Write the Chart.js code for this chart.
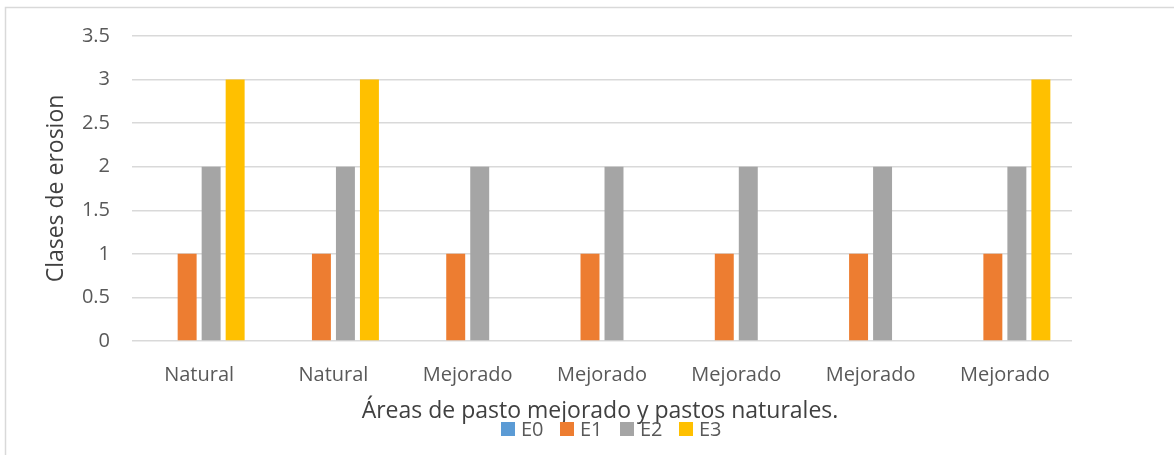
<!DOCTYPE html>
<html>
<head>
<meta charset="utf-8">
<script src="https://cdn.jsdelivr.net/npm/chart.js"></script>
<style>
  html, body { margin: 0; padding: 0; background: #fff; }
  #wrap { position: relative; width: 1174px; height: 455px; }
</style>
</head>
<body>
<div id="wrap"><canvas id="chart" width="1174" height="455"></canvas></div>
<script>
// datos del grafico
const categorias = ['Natural', 'Natural', 'Mejorado', 'Mejorado', 'Mejorado', 'Mejorado', 'Mejorado'];
const serieE0 = [0, 0, 0, 0, 0, 0, 0];
const serieE1 = [1, 1, 1, 1, 1, 1, 1];
const serieE2 = [2, 2, 2, 2, 2, 2, 2];
const serieE3 = [3, 3, 0, 0, 0, 0, 3];
const nombresSeries = ['E0', 'E1', 'E2', 'E3'];
const coloresSeries = ['#5B9BD5', '#ED7D31', '#A5A5A5', '#FFC000'];

const FONT = "'Open Sans', sans-serif";
const GRIS_TEXTO = '#595959';

// borde del area del grafico + titulo X + leyenda (se superponen como en el original)
const extras = {
    id: 'extras',
    beforeDraw(chart) {
        const ctx = chart.ctx;
        ctx.save();
        ctx.strokeStyle = '#d9d9d9';
        ctx.lineWidth = 1.5;
        ctx.beginPath();
        ctx.moveTo(5.5, 455);
        ctx.lineTo(5.5, 7.5);
        ctx.lineTo(1174, 7.5);
        ctx.stroke();
        ctx.restore();
    },
    afterDraw(chart) {
        const ctx = chart.ctx;
        ctx.save();
        // titulo eje X
        ctx.fillStyle = '#404040';
        ctx.font = '23px ' + FONT;
        ctx.textAlign = 'center';
        ctx.textBaseline = 'middle';
        ctx.fillText('Áreas de pasto mejorado y pastos naturales.', 600, 411);

        // leyenda
        const xs = [501, 560, 620, 679];
        ctx.font = '20px ' + FONT;
        ctx.textAlign = 'left';
        chart.data.datasets.forEach((ds, i) => {
            ctx.fillStyle = ds.backgroundColor;
            ctx.fillRect(xs[i], 422, 14, 14);
            ctx.fillStyle = GRIS_TEXTO;
            ctx.fillText(ds.label, xs[i] + 20, 430);
        });
        ctx.restore();
    }
};

const datos = [serieE0, serieE1, serieE2, serieE3];

new Chart(document.getElementById('chart'), {
    type: 'bar',
    data: {
        labels: categorias,
        datasets: nombresSeries.map((n, i) => ({
            label: n,
            data: datos[i],
            backgroundColor: coloresSeries[i],
            categoryPercentage: 0.715,
            barPercentage: 0.79
        }))
    },
    options: {
        responsive: false,
        animation: false,
        layout: { padding: { left: 0, right: 102, top: 36, bottom: 0 } },
        plugins: {
            legend: { display: false },
            tooltip: { enabled: false }
        },
        scales: {
            x: {
                grid: { display: false, drawTicks: false },
                border: { display: false },
                ticks: { color: GRIS_TEXTO, font: { family: FONT, size: 20 }, padding: 22, maxRotation: 0 },
                afterFit(scale) { scale.height = 114; }
            },
            y: {
                min: 0,
                max: 3.5,
                ticks: {
                    stepSize: 0.5,
                    color: GRIS_TEXTO,
                    font: { family: FONT, size: 20 },
                    padding: 22,
                    callback: v => String(v)
                },
                grid: { color: '#d9d9d9', lineWidth: 1.5, drawTicks: false },
                border: { display: false },
                title: {
                    display: true,
                    text: 'Clases de erosion',
                    color: '#404040',
                    font: { family: FONT, size: 23 },
                    padding: { top: 43, bottom: 0 }
                },
                afterFit(scale) { scale.width = 132; }
            }
        }
    },
    plugins: [extras]
});
</script>
</body>
</html>
